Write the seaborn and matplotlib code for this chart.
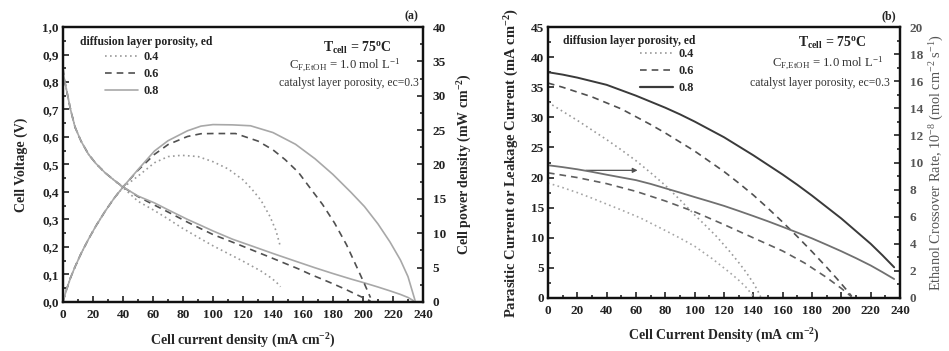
import numpy as np
import pandas as pd
import matplotlib
matplotlib.use("Agg")
import matplotlib.pyplot as plt
from matplotlib.lines import Line2D
from matplotlib.ticker import MultipleLocator, FuncFormatter
import seaborn as sns

# ---------------- data: panel (a) ----------------
cur_04 = [0, 0.5, 2, 5, 8, 12, 17, 22, 28, 34, 40, 50, 61, 70, 79, 90, 100, 110, 120, 126, 132, 138, 142, 145]
volt_04 = [0.85, 0.82, 0.78, 0.70, 0.636, 0.585, 0.537, 0.503, 0.47, 0.443, 0.416, 0.366, 0.332, 0.302,
           0.27, 0.235, 0.204, 0.176, 0.148, 0.13, 0.112, 0.09, 0.073, 0.055]
pow_04 = [0, 0.41, 1.56, 3.5, 5.09, 7.02, 9.13, 11.07, 13.16, 15.06, 16.64, 18.3, 20.25, 21.14, 21.33,
          21.15, 20.4, 19.36, 17.76, 16.38, 14.78, 12.42, 10.37, 7.98]

cur_06 = [0, 0.5, 2, 5, 8, 12, 17, 22, 28, 34, 40, 50, 61, 70, 83, 92, 100, 115, 130, 140, 148, 157, 165,
          173, 181, 189, 197, 201, 205]
volt_06 = [0.85, 0.82, 0.78, 0.70, 0.636, 0.585, 0.537, 0.503, 0.47, 0.443, 0.418, 0.383, 0.352, 0.327,
           0.29, 0.266, 0.245, 0.213, 0.18, 0.158, 0.14, 0.12, 0.1, 0.082, 0.0635, 0.044, 0.023, 0.013, 0.003]
pow_06 = [0, 0.41, 1.56, 3.5, 5.09, 7.02, 9.13, 11.07, 13.16, 15.06, 16.72, 19.15, 21.47, 22.89, 24.07,
          24.47, 24.5, 24.5, 23.4, 22.12, 20.72, 18.84, 16.5, 14.19, 11.49, 8.32, 4.53, 2.61, 0.62]

cur_08 = [0, 0.5, 2, 5, 8, 12, 17, 22, 28, 34, 40, 50, 61, 70, 83, 92, 100, 113, 125, 140, 155, 168, 180,
          192, 201, 210, 218, 225, 230, 235]
volt_08 = [0.85, 0.82, 0.78, 0.70, 0.636, 0.585, 0.537, 0.503, 0.47, 0.443, 0.418, 0.385, 0.36, 0.335,
           0.3, 0.278, 0.258, 0.228, 0.205, 0.176, 0.148, 0.124, 0.103, 0.083, 0.069, 0.054, 0.04, 0.027,
           0.016, 0.0]
pow_08 = [0, 0.41, 1.56, 3.5, 5.09, 7.02, 9.13, 11.07, 13.16, 15.06, 16.72, 19.25, 21.96, 23.45, 24.9,
          25.58, 25.8, 25.76, 25.63, 24.64, 22.94, 20.83, 18.54, 15.94, 13.87, 11.34, 8.72, 6.08, 3.68, 0.0]

# ---------------- data: panel (b) ----------------
par_cur_08 = [0, 10, 20, 30, 40, 50, 60, 70, 80, 90, 100, 110, 120, 130, 140, 150, 160, 170, 180, 190,
              200, 210, 220, 228, 236]
par_08 = [37.5, 37.1, 36.6, 36.0, 35.4, 34.5, 33.6, 32.6, 31.6, 30.5, 29.3, 28.0, 26.7, 25.2, 23.7, 22.1,
          20.5, 18.8, 17.0, 15.1, 13.2, 11.1, 9.0, 7.1, 5.1]
cro_cur_08 = [0, 10, 20, 30, 40, 50, 60, 70, 80, 90, 100, 110, 120, 130, 140, 150, 160, 170, 180, 190,
              200, 210, 220, 228, 236]
cro_08 = [9.8, 9.66, 9.5, 9.31, 9.1, 8.9, 8.7, 8.42, 8.1, 7.78, 7.45, 7.13, 6.8, 6.43, 6.05, 5.66, 5.25,
          4.83, 4.4, 3.93, 3.45, 2.94, 2.4, 1.91, 1.4]

par_cur_06 = [0, 10, 20, 30, 40, 50, 60, 70, 80, 90, 100, 110, 120, 130, 140, 150, 160, 170, 180, 190,
              197, 203, 207]
par_06 = [35.7, 35.0, 34.2, 33.4, 32.4, 31.4, 30.1, 28.8, 27.4, 25.9, 24.4, 22.7, 21.0, 19.1, 17.1, 14.9,
          12.6, 10.2, 7.7, 5.1, 3.2, 1.5, 0.3]
cro_cur_06 = [0, 20, 40, 60, 80, 100, 120, 140, 160, 175, 190, 200, 207]
cro_06 = [9.24, 8.89, 8.44, 7.87, 7.16, 6.36, 5.42, 4.44, 3.47, 2.58, 1.51, 0.71, 0.09]

par_cur_04 = [0, 10, 20, 30, 40, 50, 60, 70, 80, 90, 100, 108, 115, 124, 130, 135, 140, 143, 145]
par_04 = [32.5, 31.0, 29.5, 27.9, 26.3, 24.6, 22.8, 20.8, 18.7, 16.3, 13.8, 11.9, 10.2, 7.7, 5.9, 4.3,
          2.5, 1.2, 0.2]
cro_cur_04 = [0, 10, 20, 30, 40, 50, 63, 80, 90, 100, 112, 124, 130, 135, 140]
cro_04 = [8.49, 8.15, 7.78, 7.37, 6.93, 6.5, 5.91, 4.98, 4.42, 3.82, 2.9, 1.87, 1.32, 0.8, 0.13]

legend_labels = ["0.4", "0.6", "0.8"]

# ---------------- style ----------------
sns.set_style("ticks")
plt.rcParams["font.family"] = ["Liberation Serif", "DejaVu Serif"]
plt.rcParams["mathtext.fontset"] = "custom"
plt.rcParams["mathtext.rm"] = "Liberation Serif"
plt.rcParams["mathtext.it"] = "Liberation Serif:italic"
plt.rcParams["mathtext.bf"] = "Liberation Serif:bold"

DOT = (0, (1, 2))
DASH = (0, (4, 3))

fig = plt.figure(figsize=(9.49, 3.51), dpi=100)
ax1 = fig.add_axes([0.0664, 0.140, 0.3793, 0.783])
ax1r = ax1.twinx()
ax2 = fig.add_axes([0.5774, 0.151, 0.3710, 0.772])
ax2r = ax2.twinx()


def line(ax, x, y, color, ls, lw=1.2):
    sns.lineplot(x=x, y=y, ax=ax, color=color, linestyle=ls, linewidth=lw, sort=False,
                 estimator=None, legend=False)


# panel (a)
c04a, c06a, c08a = "#9a9a9a", "#505050", "#a8a8a8"
line(ax1, cur_04, volt_04, c04a, DOT)
line(ax1, cur_06, volt_06, c06a, DASH)
line(ax1, cur_08, volt_08, c08a, "-")
line(ax1r, cur_04, pow_04, c04a, DOT)
line(ax1r, cur_06, pow_06, c06a, DASH)
line(ax1r, cur_08, pow_08, c08a, "-")

# panel (b)
line(ax2, par_cur_04, par_04, "#9a9a9a", DOT)
line(ax2, par_cur_06, par_06, "#505050", DASH)
line(ax2, par_cur_08, par_08, "#3a3a3a", "-", 1.4)
line(ax2r, cro_cur_04, cro_04, "#a5a5a5", DOT)
line(ax2r, cro_cur_06, cro_06, "#606060", DASH)
line(ax2r, cro_cur_08, cro_08, "#707070", "-", 1.3)

ax2.annotate("", xy=(63, 21.2), xytext=(24, 21.2),
             arrowprops=dict(arrowstyle="-|>", color="#505050", lw=0.9, mutation_scale=7))

# axes limits / ticks
ax1.set_xlim(0, 240)
ax1.set_ylim(0, 1.0)
ax1r.set_ylim(0, 40)
ax2.set_xlim(0, 240)
ax2.set_ylim(0, 45)
ax2r.set_ylim(0, 20)

for ax in (ax1, ax2):
    ax.xaxis.set_major_locator(MultipleLocator(20))
    ax.xaxis.set_minor_locator(MultipleLocator(10))
ax1.yaxis.set_major_locator(MultipleLocator(0.1))
ax1.yaxis.set_minor_locator(MultipleLocator(0.05))
ax1.yaxis.set_major_formatter(FuncFormatter(lambda v, p: f"{v:.1f}".replace(".", ",")))
ax1r.yaxis.set_major_locator(MultipleLocator(5))
ax1r.yaxis.set_minor_locator(MultipleLocator(2.5))
ax2.yaxis.set_major_locator(MultipleLocator(5))
ax2.yaxis.set_minor_locator(MultipleLocator(2.5))
ax2r.yaxis.set_major_locator(MultipleLocator(2))
ax2r.yaxis.set_minor_locator(MultipleLocator(1))

for ax in (ax1, ax1r, ax2, ax2r):
    ax.tick_params(which="both", direction="in", width=1.2, labelsize=9.5, pad=3, colors="#222222")
    ax.tick_params(which="major", length=4)
    ax.tick_params(which="minor", length=2)
    ax.tick_params(top=False)
    for lab in ax.get_xticklabels() + ax.get_yticklabels():
        lab.set_fontweight("bold")
    for sp in ax.spines.values():
        sp.set_linewidth(1.6)
        sp.set_color("#111111")
for ax in (ax1r, ax2r):
    ax.tick_params(left=False, pad=7)
for ax in (ax1, ax2):
    ax.tick_params(right=False)
    ax.tick_params(axis="x", pad=5)

for lab in ax2r.get_yticklabels():
    lab.set_color("#555555")

# axis labels
ax1.set_xlabel("Cell current density (mA cm$^{\\mathbf{-2}}$)", fontsize=10, fontweight="bold", labelpad=8)
ax1.set_ylabel("Cell Voltage (V)", fontsize=10, fontweight="bold", labelpad=10)
ax1r.set_ylabel("Cell power density (mW cm$^{\\mathbf{-2}}$)", fontsize=10, fontweight="bold",
                rotation=90, labelpad=7)
ax2.set_xlabel("Cell Current Density (mA cm$^{\\mathbf{-2}}$)", fontsize=10, fontweight="bold", labelpad=7)
ax2.set_ylabel("Parasitic Current or Leakage Current (mA cm$^{\\mathbf{-2}}$)", fontsize=10.5,
               fontweight="bold", labelpad=7)
ax2r.set_ylabel("Ethanol Crossover Rate, 10$^{-8}$ (mol cm$^{-2}$ s$^{-1}$)", fontsize=10.3,
                color="#555555", rotation=90, labelpad=3)

# legends
def make_legend(ax, colors, widths, tx, ty, lx, ly):
    ax.text(tx, ty, "diffusion layer porosity, ed", transform=ax.transAxes, fontsize=8.4,
            fontweight="bold", ha="left", va="center", color="#222222")
    handles = [Line2D([], [], color=colors[0], linestyle=DOT, lw=widths[0]),
               Line2D([], [], color=colors[1], linestyle=DASH, lw=widths[1]),
               Line2D([], [], color=colors[2], linestyle="-", lw=widths[2])]
    leg = ax.legend(handles, legend_labels, loc="upper left", bbox_to_anchor=(lx, ly), frameon=False,
                    prop=dict(size=8.8, weight="bold"), handlelength=2.7, handletextpad=0.45,
                    labelspacing=0.42, borderaxespad=0, borderpad=0)
    return leg

leg1 = make_legend(ax1r, [c04a, c06a, c08a], [1.2, 1.2, 1.2], 0.047, 0.945, 0.117, 0.912)
leg2 = make_legend(ax2r, ["#9a9a9a", "#505050", "#3a3a3a"], [1.2, 1.2, 1.6], 0.043, 0.950, 0.261, 0.922)

# annotations
def notes(ax, xt, yt, xc, yc, xk, yk):
    ax.text(xt, yt, "T$_{\\mathbf{cell}}$ = 75$^{\\mathbf{o}}$C", transform=ax.transAxes, fontsize=10,
            fontweight="bold", ha="center", va="center", color="#222222")
    ax.text(xc, yc, "C$_{\\mathrm{F{,}EtOH}}$ = 1.0 mol L$^{-1}$", transform=ax.transAxes, fontsize=9.2,
            ha="center", va="center", color="#333333")
    ax.text(xk, yk, "catalyst layer porosity, ec=0.3", transform=ax.transAxes, fontsize=8.4,
            ha="right", va="center", color="#333333")

notes(ax1r, 0.817, 0.924, 0.783, 0.862, 0.99, 0.796)
notes(ax2r, 0.807, 0.940, 0.796, 0.867, 0.972, 0.793)

fig.text(411 / 949, 1 - 16 / 351, "(a)", fontsize=8.5, fontweight="bold", ha="center", va="center")
fig.text(889 / 949, 1 - 16 / 351, "(b)", fontsize=8.5, fontweight="bold", ha="center", va="center")

fig.savefig("out.png", dpi=100)
